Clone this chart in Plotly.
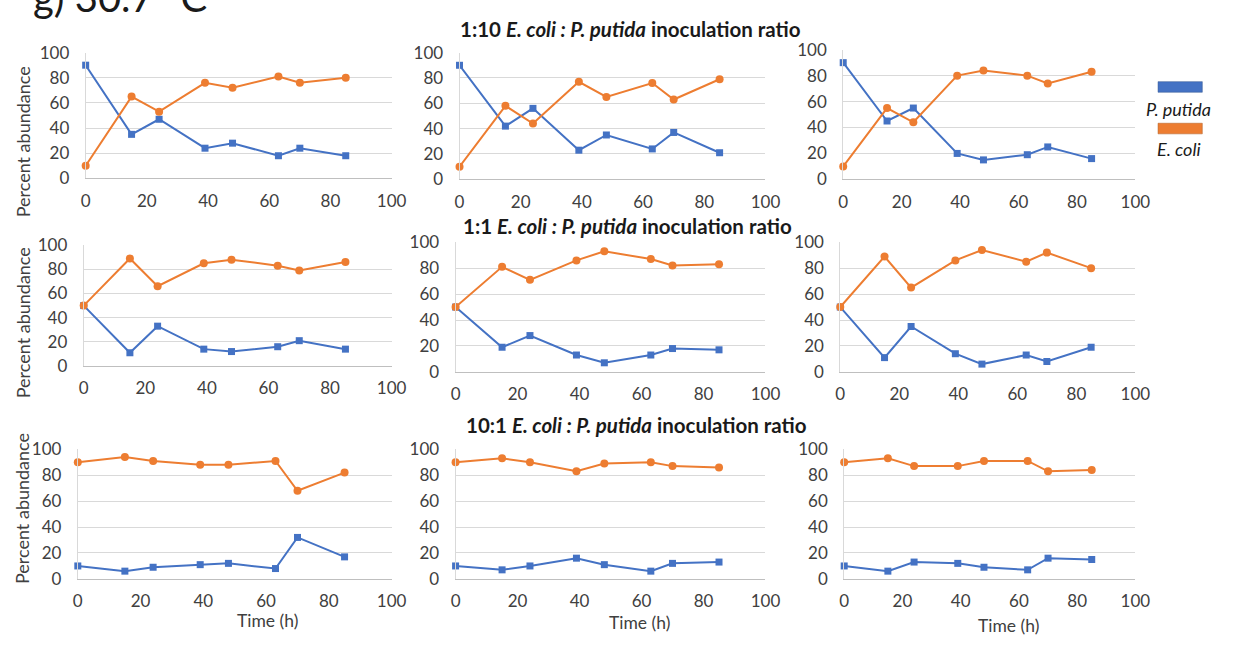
import plotly.graph_objects as go

W, H = 1236, 646

time_h = [0, 15, 24, 39, 48, 63, 70, 85]

r1c1_putida = [90, 35, 47, 24, 28, 18, 24, 18]
r1c1_ecoli = [10, 65, 53, 76, 72, 81, 76, 80]
r1c2_putida = [90, 42, 56, 23, 35, 24, 37, 21]
r1c2_ecoli = [10, 58, 44, 77, 65, 76, 63, 79]
r1c3_putida = [90, 45, 55, 20, 15, 19, 25, 16]
r1c3_ecoli = [10, 55, 44, 80, 84, 80, 74, 83]

r2c1_putida = [50, 11, 33, 14, 12, 16, 21, 14]
r2c1_ecoli = [50, 89, 66, 85, 88, 83, 79, 86]
r2c2_putida = [50, 19, 28, 13, 7, 13, 18, 17]
r2c2_ecoli = [50, 81, 71, 86, 93, 87, 82, 83]
r2c3_putida = [50, 11, 35, 14, 6, 13, 8, 19]
r2c3_ecoli = [50, 89, 65, 86, 94, 85, 92, 80]

r3c1_putida = [10, 6, 9, 11, 12, 8, 32, 17]
r3c1_ecoli = [90, 94, 91, 88, 88, 91, 68, 82]
r3c2_putida = [10, 7, 10, 16, 11, 6, 12, 13]
r3c2_ecoli = [90, 93, 90, 83, 89, 90, 87, 86]
r3c3_putida = [10, 6, 13, 12, 9, 7, 16, 15]
r3c3_ecoli = [90, 93, 87, 87, 91, 91, 83, 84]

x_ticks = [0, 20, 40, 60, 80, 100]
y_ticks = [0, 20, 40, 60, 80, 100]

row_titles = [
    "1:10 <i>E. coli : P. putida</i> inoculation ratio",
    "1:1 <i>E. coli : P. putida</i> inoculation ratio",
    "10:1 <i>E. coli : P. putida</i> inoculation ratio",
]
series_names = ["P. putida", "E. coli"]

panels = [
    (r1c1_putida, r1c1_ecoli), (r1c2_putida, r1c2_ecoli), (r1c3_putida, r1c3_ecoli),
    (r2c1_putida, r2c1_ecoli), (r2c2_putida, r2c2_ecoli), (r2c3_putida, r2c3_ecoli),
    (r3c1_putida, r3c1_ecoli), (r3c2_putida, r3c2_ecoli), (r3c3_putida, r3c3_ecoli),
]

# pixel boxes: x at 0, x at 100, y at 100, y at 0
boxes = [
    (82, 393, 43, 173), (462, 773, 43, 174), (852, 1149, 40, 174),
    (80, 393, 242, 367), (458, 773, 239, 373), (849, 1149, 239, 373),
    (74, 393, 453, 587), (458, 773, 453, 587), (853, 1149, 453, 587),
]

BLUE = "#4472C4"
ORANGE = "#ED7D31"
FONT = "Lato"
TICKC = "#404040"

fig = go.Figure()
layout = dict(
    width=W, height=H,
    margin=dict(l=0, r=0, t=0, b=0),
    paper_bgcolor="white", plot_bgcolor="white",
    showlegend=False,
    font=dict(family=FONT, size=17, color=TICKC),
)

for i, ((put, eco), (x0, x1, y1, y0)) in enumerate(zip(panels, boxes)):
    n = i + 1
    xa = "x" if n == 1 else f"x{n}"
    ya = "y" if n == 1 else f"y{n}"
    fig.add_trace(go.Scatter(
        x=time_h, y=put, mode="lines+markers", name=series_names[0],
        line=dict(color=BLUE, width=2), marker=dict(symbol="square", size=7, color=BLUE),
        xaxis=xa, yaxis=ya, cliponaxis=False))
    fig.add_trace(go.Scatter(
        x=time_h, y=eco, mode="lines+markers", name=series_names[1],
        line=dict(color=ORANGE, width=2), marker=dict(symbol="circle", size=8, color=ORANGE),
        xaxis=xa, yaxis=ya, cliponaxis=False))
    layout[f"xaxis{n}"] = dict(
        domain=[x0 / W, x1 / W], anchor=ya, range=[0, 100],
        tickvals=x_ticks, showgrid=False, zeroline=False,
        showline=True, linecolor="#BFBFBF", linewidth=1,
        ticks="", ticklabelstandoff=7,
        tickfont=dict(family=FONT, size=17, color=TICKC), fixedrange=True)
    layout[f"yaxis{n}"] = dict(
        domain=[1 - y0 / H, 1 - y1 / H], anchor=xa, range=[0, 100],
        tickvals=y_ticks, showgrid=True, gridcolor="#D9D9D9", gridwidth=1,
        zeroline=False, showline=True, linecolor="#D9D9D9", linewidth=1,
        ticks="", ticklabelstandoff=12,
        tickfont=dict(family=FONT, size=17, color=TICKC), fixedrange=True)

fig.update_layout(**layout)

ann = []
# big clipped panel label
ann.append(dict(text="g) 30.7 °C", x=26 / W, y=1 - 12 / H, xref="paper", yref="paper",
                xanchor="left", yanchor="bottom", showarrow=False,
                font=dict(family=FONT, size=40, color="#1a1a1a")))
# row titles
for t, (cx, cy) in zip(row_titles, [(636, 19), (633, 222), (642, 428)]):
    ann.append(dict(text=f"<b>{t}</b>", x=cx / W, y=1 - cy / H, xref="paper", yref="paper",
                    xanchor="center", yanchor="middle", showarrow=False,
                    font=dict(family=FONT, size=20.5, color="#1a1a1a")))
# y axis titles
for cy in [135, 322, 514]:
    ann.append(dict(text="Percent abundance", x=18 / W, y=1 - cy / H, xref="paper", yref="paper",
                    xanchor="center", yanchor="middle", textangle=-90, showarrow=False,
                    font=dict(family=FONT, size=18, color=TICKC)))
# x axis titles
for cx, cy in [(267, 630), (645, 632), (1020, 635)]:
    ann.append(dict(text="Time (h)", x=cx / W, y=1 - cy / H, xref="paper", yref="paper",
                    xanchor="center", yanchor="middle", showarrow=False,
                    font=dict(family=FONT, size=17.5, color=TICKC)))
# legend
shapes = []
for (name, col, ry0, ry1, ty) in [(series_names[0], BLUE, 73, 84, 101), (series_names[1], ORANGE, 116, 127, 143)]:
    shapes.append(dict(type="rect", xref="paper", yref="paper",
                       x0=1172 / W, x1=1217 / W, y0=1 - ry1 / H, y1=1 - ry0 / H,
                       fillcolor=col, line=dict(color="#2F528F" if col == BLUE else "#AE5A21", width=0.5)))
    ann.append(dict(text=f"<i>{name}</i>", x=1193 / W, y=1 - ty / H, xref="paper", yref="paper",
                    xanchor="center", yanchor="middle", showarrow=False,
                    font=dict(family=FONT, size=18, color="#1a1a1a")))

fig.update_layout(annotations=ann, shapes=shapes)
fig.write_html("out.html")
